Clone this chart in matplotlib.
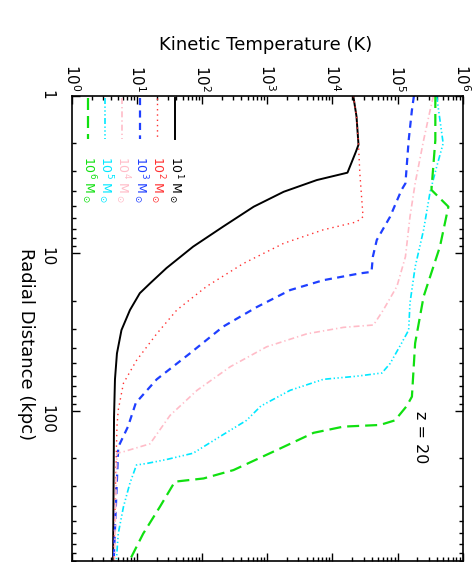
import numpy as np
import matplotlib
matplotlib.use('Agg')
import matplotlib.pyplot as plt
from matplotlib.ticker import LogLocator, NullFormatter, FuncFormatter, LogFormatterMathtext

# radial distance (kpc) and kinetic temperature (K) for each halo mass
r_1e1 = [1, 1.35, 2.04, 2.26, 3.07, 3.42, 4.06, 5.05, 6.76, 9.06, 12.4, 15.5, 17.9, 22.9, 30.7, 43.2, 63.1, 110, 900]
T_1e1 = [20900, 23400, 25100, 22900, 17000, 5750, 1780, 617, 209, 72.4, 28.2, 15.8, 11.0, 7.76, 5.75, 4.9, 4.57, 4.42, 4.27]

r_1e2 = [1, 1.35, 2.04, 3.09, 5.85, 6.31, 7.08, 8.63, 11.6, 16.2, 22.9, 32.4, 47.9, 66.8, 98.9, 126, 900]
T_1e2 = [20900, 23400, 25100, 26300, 29500, 23400, 7240, 1780, 427, 117, 40.7, 20.0, 9.77, 6.17, 5.13, 4.9, 4.37]

r_1e3 = [1, 1.23, 1.91, 3.59, 3.95, 5.85, 8.22, 10.5, 13.1, 13.4, 14.8, 17.1, 21.9, 29.2, 43.2, 63.1, 89.1, 126, 170, 900]
T_1e3 = [178000, 166000, 148000, 132000, 115000, 76700, 47900, 41700, 39800, 26300, 7240, 2240, 692, 209, 64.6, 20.0, 9.55, 7.24, 5.13, 4.37]

r_1e4 = [1, 1.23, 1.91, 3.59, 5.85, 10.5, 16.2, 22.9, 28.5, 29.5, 32.4, 39.2, 52.5, 74.1, 107, 162, 182, 186, 900]
T_1e4 = [355000, 316000, 251000, 186000, 155000, 132000, 97700, 60300, 42700, 14800, 4070, 977, 269, 83.2, 32.0, 15.8, 6.17, 4.9, 4.47]

r_1e5 = [1, 2.0, 2.82, 4.06, 7.08, 12.2, 20.7, 30.7, 37.2, 50.1, 57.5, 60.3, 63.1, 74.1, 93.3,
         115, 146, 186, 204, 216, 221, 288, 407, 603, 900]
T_1e5 = [398000, 501000, 398000, 316000, 251000, 186000, 155000, 148000, 115000, 76700, 57500, 23400, 7240, 2240, 794,
         479, 186, 72.4, 28.2, 14.1, 9.77, 7.76, 6.17, 5.13, 4.79]

r_1e6 = [1, 1.91, 3.95, 5.05, 9.06, 18.8, 37.2, 81.3, 93.3, 115, 123, 126, 138, 178, 238, 269, 282, 407, 603, 900]
T_1e6 = [380000, 380000, 331000, 603000, 447000, 251000, 186000, 166000, 138000, 91200, 53700, 14800, 5130, 1380, 302, 105, 38.0, 22.4, 12.4, 7.59]

T_ticks = [1e0, 1e1, 1e2, 1e3, 1e4, 1e5, 1e6]
r_ticks = [1, 10, 100]

labels = [r'$10^{1}$ M$_\odot$', r'$10^{2}$ M$_\odot$', r'$10^{3}$ M$_\odot$',
          r'$10^{4}$ M$_\odot$', r'$10^{5}$ M$_\odot$', r'$10^{6}$ M$_\odot$']
colors = ['black', '#ff3030', '#1f3fff', '#ffbcc8', '#00e8ff', '#10e010']
styles = [dict(ls='-', lw=1.4),
          dict(ls=(0, (1, 2.8)), lw=1.0),
          dict(ls=(0, (3.2, 2.4)), lw=1.6),
          dict(ls=(0, (3.6, 1.8, 0.8, 1.8)), lw=1.2),
          dict(ls=(0, (3.6, 1.5, 0.8, 1.5, 0.8, 1.5, 0.8, 1.5)), lw=1.2),
          dict(ls=(0, (5.4, 2.7)), lw=1.6)]

fig = plt.figure(figsize=(4.77, 5.62), dpi=100)
ax = fig.add_axes([72/477, 1 - 561/562, 390.7/477, 465/562])

curves = [(r_1e1, T_1e1), (r_1e2, T_1e2), (r_1e3, T_1e3),
          (r_1e4, T_1e4), (r_1e5, T_1e5), (r_1e6, T_1e6)]
# rotated plot: temperature runs across, radius runs down
for (r, T), c, st in zip(curves, colors, styles):
    ax.plot(T, r, color=c, **st)

ax.set_xscale('log')
ax.set_yscale('log')
ax.set_xlim(1, 1e6)
ax.set_ylim(900, 1)

ax.xaxis.tick_top()
ax.set_xticks(T_ticks)
ax.set_yticks(r_ticks)
ax.xaxis.set_minor_locator(LogLocator(base=10, subs=np.arange(2, 10), numticks=20))
ax.xaxis.set_major_formatter(LogFormatterMathtext())
ax.xaxis.set_minor_formatter(NullFormatter())
ax.yaxis.set_minor_locator(LogLocator(base=10, subs=np.arange(2, 10), numticks=20))
ax.yaxis.set_major_formatter(FuncFormatter(lambda v, p: '%d' % round(v)))
ax.yaxis.set_minor_formatter(NullFormatter())
ax.xaxis.offsetText.set_visible(False)
ax.yaxis.offsetText.set_visible(False)

ax.tick_params(which='both', direction='in', top=True, bottom=True, left=True, right=True,
               labeltop=True, labelbottom=False, width=1.0)
ax.tick_params(which='major', length=5.5)
ax.tick_params(which='minor', length=3)
ax.tick_params(axis='x', labelsize=11, labelrotation=-90, pad=3)
ax.tick_params(axis='y', labelsize=11, labelrotation=-90, pad=13)
for s in ax.spines.values():
    s.set_linewidth(1.2)

fig.text(266/477, 1 - 45/562, 'Kinetic Temperature (K)', fontsize=13, ha='center', va='center')
fig.text(26/477, 1 - 344/562, 'Radial Distance (kpc)', fontsize=13, ha='center', va='center', rotation=-90)

# legend, drawn as vertical columns
leg_x = [0.264, 0.218, 0.174, 0.128, 0.0845, 0.041]
for lx, lab, c, st in zip(leg_x, labels, colors, styles):
    ax.plot([lx, lx], [0.996, 0.907], color=c, transform=ax.transAxes, **st)
    ax.text(lx, 0.872, lab, color=c, fontsize=9, rotation=-90, ha='center', va='top',
            transform=ax.transAxes)

ax.text(0.893, 0.267, 'z = 20', fontsize=11.5, rotation=-90, ha='center', va='center',
        transform=ax.transAxes)

fig.savefig('out.png', dpi=100)
